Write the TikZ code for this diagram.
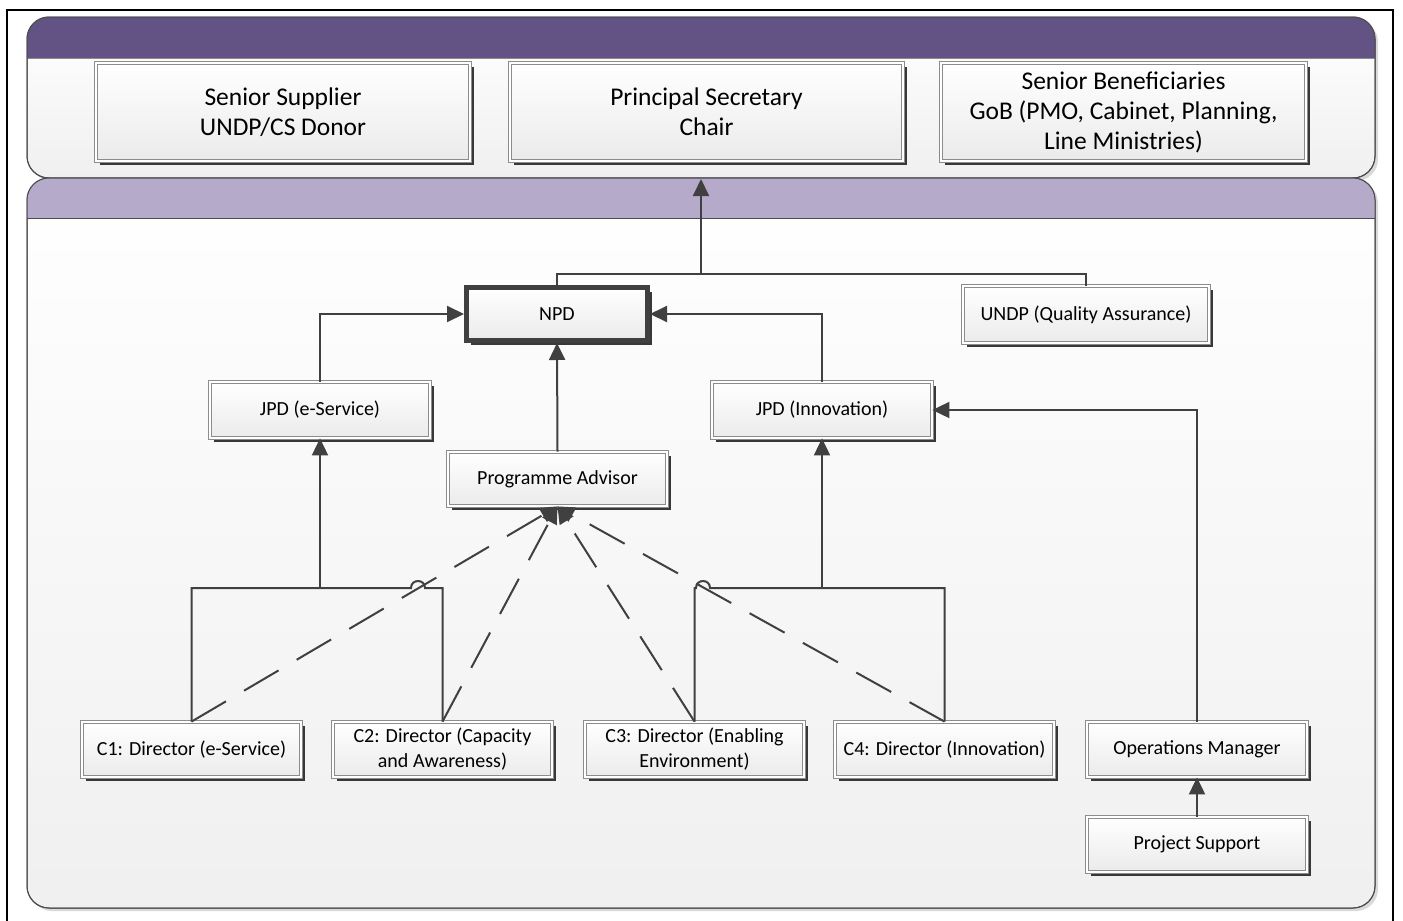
\documentclass[tikz,border=0pt]{standalone}
\usepackage{fontspec}
\setmainfont{Carlito}
\usetikzlibrary{arrows.meta,shadows,calc}
\definecolor{lc}{HTML}{404040}
\definecolor{bandA}{HTML}{635284}
\definecolor{bandB}{HTML}{B6AACA}
\definecolor{boxline}{HTML}{8C8C8C}
\tikzset{
  base/.style={top color=white, bottom color=black!8, inner sep=0pt, align=center,
    drop shadow={shadow xshift=4pt, shadow yshift=-4pt, fill=black!78, opacity=1},
    font=\fontsize{20}{25}\selectfont},
  box/.style={base, draw=boxline, double=white, double distance=1.6pt, line width=0.8pt,
    minimum width=219pt, minimum height=55pt},
  topbox/.style={box, minimum height=98pt, font=\fontsize{25.5}{30}\selectfont},
  npdbox/.style={base, draw=lc, line width=5pt},
  conn/.style={draw=lc, line width=2pt},
  arr/.style={conn, -{Triangle[length=17pt,width=16pt]}},
  dsh/.style={arr, dash pattern=on 40pt off 21pt},
  container/.style={rounded corners=22pt, draw=black!70, line width=1pt}
}
\begin{document}
\begin{tikzpicture}[x=1pt,y=-1pt]
\useasboundingbox (0,0) rectangle (1403,921);
\fill[white] (0,0) rectangle (1403,921);
% outer frame
\draw[black, line width=2pt] (7,10) rectangle (1393,935);
% upper container
\path[container, top color=white, bottom color=black!6,
  drop shadow={shadow xshift=3pt, shadow yshift=-3pt, fill=black!15, opacity=1}]
  (27,17) rectangle (1375,178);
\begin{scope}
  \clip[rounded corners=22pt] (27,17) rectangle (1375,178);
  \fill[bandA] (27,17) rectangle (1375,58);
\end{scope}
\draw[black!45, line width=0.8pt] (27,58) -- (1375,58);
\draw[container] (27,17) rectangle (1375,178);
% lower container
\path[container, top color=white, bottom color=black!6,
  drop shadow={shadow xshift=3pt, shadow yshift=-3pt, fill=black!15, opacity=1}]
  (27,178) rectangle (1375,908);
\begin{scope}
  \clip[rounded corners=22pt] (27,178) rectangle (1375,908);
  \fill[bandB] (27,178) rectangle (1375,218);
\end{scope}
\draw[black!70, line width=1pt] (27,218) -- (1375,218);
\draw[container] (27,178) rectangle (1375,908);

% top nodes
\node[topbox, minimum width=374pt] (ss) at (283,112) {Senior Supplier\\UNDP/CS Donor};
\node[topbox, minimum width=393pt] (ps) at (706.5,112) {Principal Secretary\\Chair};
\node[topbox, minimum width=365pt] (sb) at (1123.5,112) {Senior Beneficiaries\\GoB (PMO, Cabinet, Planning,\\Line Ministries)};

% lower nodes
\node[npdbox, minimum width=181pt, minimum height=53pt] (npd) at (557,314) {NPD};
\node[box, minimum width=246pt, minimum height=57pt] (undp) at (1086,314.5) {UNDP (Quality Assurance)};
\node[box, minimum width=220pt, minimum height=56pt] (jpde) at (320,410) {JPD (e-Service)};
\node[box, minimum width=220pt, minimum height=56pt] (jpdi) at (822,410) {JPD (Innovation)};
\node[box, minimum height=54pt] (pa) at (557.5,479) {Programme Advisor};
\node[box] (c1) at (191.5,749.5) {C1: Director (e-Service)};
\node[box] (c2) at (442.5,749.5) {C2: Director (Capacity\\and Awareness)};
\node[box] (c3) at (694.5,749.5) {C3: Director (Enabling\\Environment)};
\node[box] (c4) at (944.5,749.5) {C4: Director (Innovation)};
\node[box, minimum width=220pt] (om) at (1197,749.5) {Operations Manager};
\node[box, minimum width=220pt] (psup) at (1197,844.5) {Project Support};

% connectors
\coordinate (jt) at (701,274);
\coordinate (pstip) at (701,179);
\draw[conn] (npd.north) |- (jt) -| (undp.north);
\draw[arr] (jt) -- (pstip);
\draw[arr] (jpde.north) |- (npd.west);
\draw[arr] (jpdi.north) |- (npd.east);
\draw[arr] (pa.north) -- (npd.south);
\draw[arr] (om.north) |- (jpdi.east);
\draw[arr] (psup.north) -- (om.south);

\draw[conn] (c1.north) |- (411,588) .. controls (411,578.7) and (425,578.7) .. (425,588) -| (c2.north);
\coordinate (b1) at (320,588);
\draw[arr] (b1) -- (jpde.south);
\draw[conn] (c3.north) |- (696,588) .. controls (696,578.7) and (710,578.7) .. (710,588) -| (c4.north);
\coordinate (b2) at (822,588);
\draw[arr] (b2) -- (jpdi.south);

\draw[dsh] (c1.north) -- (pa.south);
\draw[dsh] (c2.north) -- (pa.south);
\draw[dsh] (c3.north) -- (pa.south);
\draw[dsh] (c4.north) -- (pa.south);
\end{tikzpicture}
\end{document}
